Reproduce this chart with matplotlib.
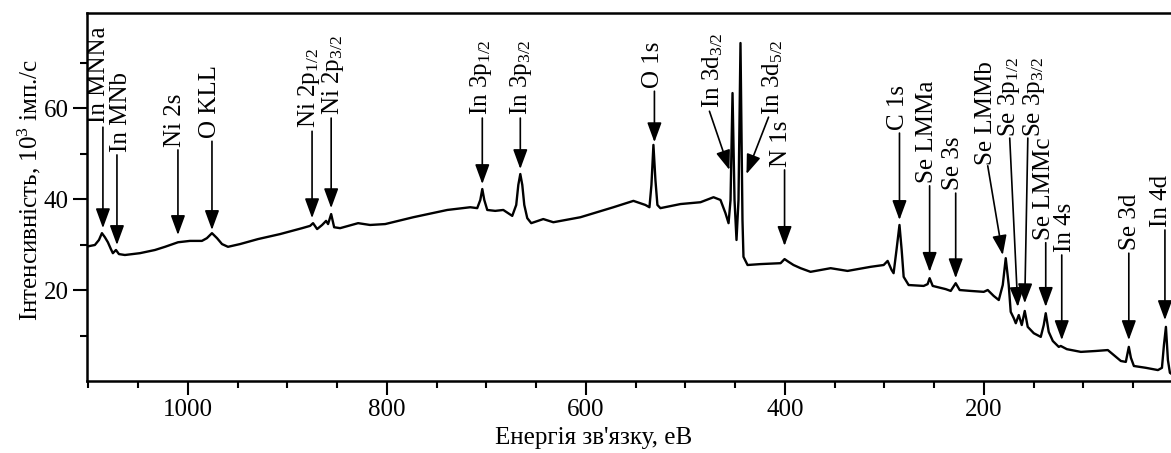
import matplotlib
matplotlib.use("Agg")
import matplotlib.pyplot as plt

# ---------------- data ----------------
energy = [1100.6, 1093.6, 1089.5, 1086.5, 1083.5, 1080.5, 1077.5, 1075.5, 1072.4, 1069.4,
          1063.4, 1048.3, 1033.2, 1023.1, 1010.0, 998.0, 986.0, 981.0, 975.9, 970.8,
          965.8, 959.8, 947.7, 929.6, 907.4, 885.3, 877.3, 874.3, 870.2, 865.2,
          861.2, 859.2, 856.1, 853.1, 847.1, 829.0, 817.0, 801.8, 773.6, 739.4,
          716.3, 709.3, 706.2, 704.2, 702.2, 699.2, 691.2, 683.1, 674.1, 670.1,
          668.0, 666.0, 664.0, 662.0, 659.0, 655.0, 642.9, 632.8, 605.6, 572.4,
          552.3, 540.3, 536.2, 534.2, 532.2, 530.2, 528.2, 525.2, 505.0, 484.9,
          471.8, 464.8, 459.8, 456.7, 454.7, 452.7, 450.7, 448.7, 446.7, 444.7,
          442.7, 441.7, 437.6, 424.6, 404.4, 400.4, 396.4, 391.4, 384.3, 374.3,
          354.1, 337.1, 313.9, 300.8, 296.8, 292.8, 290.8, 287.9, 284.9, 282.7,
          280.7, 275.7, 260.6, 256.6, 254.6, 251.5, 238.5, 233.4, 228.4, 224.4,
          213.3, 200.2, 196.2, 190.2, 185.1, 181.1, 178.1, 175.1, 173.1, 170.0,
          168.0, 165.0, 162.0, 159.0, 156.0, 149.9, 142.9, 139.9, 137.9, 134.9,
          130.8, 124.8, 122.8, 116.7, 102.6, 87.6, 75.5, 69.5, 62.4, 57.4,
          55.4, 54.4, 52.3, 49.3, 37.3, 25.1, 21.1, 19.1, 17.1, 15.1,
          13.1, 11.1]
intensity = [29.6, 29.9, 31.0, 32.5, 31.6, 30.5, 29.0, 28.1, 28.8, 27.9,
             27.7, 28.1, 28.8, 29.5, 30.5, 30.8, 30.8, 31.4, 32.5, 31.4,
             30.1, 29.5, 30.1, 31.2, 32.3, 33.6, 34.1, 34.7, 33.4, 34.3,
             35.2, 34.5, 36.7, 33.8, 33.6, 34.7, 34.3, 34.5, 36.0, 37.6,
             38.2, 38.0, 39.8, 42.2, 39.8, 37.6, 37.4, 37.6, 36.3, 38.7,
             43.1, 45.5, 43.1, 38.7, 35.8, 34.7, 35.6, 34.9, 36.0, 38.2,
             39.6, 38.7, 38.2, 43.1, 51.9, 44.2, 38.7, 38.0, 38.9, 39.3,
             40.4, 39.8, 36.9, 34.7, 39.8, 63.3, 39.8, 31.0, 39.8, 74.3,
             35.4, 27.3, 25.5, 25.7, 25.9, 26.8, 26.2, 25.5, 24.8, 24.0,
             24.8, 24.2, 25.1, 25.5, 26.4, 24.4, 23.7, 28.8, 34.3, 28.8,
             22.9, 21.1, 20.9, 21.3, 22.6, 20.9, 20.2, 19.8, 21.5, 20.0,
             19.8, 19.6, 20.0, 18.7, 17.8, 21.1, 27.0, 21.1, 15.2, 13.8,
             12.7, 14.5, 12.3, 15.4, 11.9, 10.5, 9.7, 12.3, 14.9, 10.8,
             8.8, 7.5, 7.7, 7.0, 6.4, 6.6, 6.8, 5.7, 4.4, 4.2,
             6.4, 7.5, 5.1, 3.3, 2.9, 2.4, 2.9, 7.9, 11.9, 4.6,
             1.8, 1.5]

x_ticks_major = [1000, 800, 600, 400, 200]
y_ticks_major = [20, 40, 60]

# peak annotations: label, text centre energy, text bottom intensity,
# arrow start (energy, intensity), arrow tip (energy, intensity)
peak_labels = ["In MNNa", "In MNb", "Ni 2s", "O KLL",
               r"Ni 2p$_{\mathrm{1/2}}$", r"Ni 2p$_{\mathrm{3/2}}$",
               r"In 3p$_{\mathrm{1/2}}$", r"In 3p$_{\mathrm{3/2}}$", "O 1s",
               r"In 3d$_{\mathrm{3/2}}$", r"In 3d$_{\mathrm{5/2}}$", "N 1s",
               "C 1s", "Se LMMa", "Se 3s", "Se LMMb",
               r"Se 3p$_{\mathrm{1/2}}$", r"Se 3p$_{\mathrm{3/2}}$", "Se LMMc",
               "In 4s", "Se 3d", "In 4d"]
label_x = [1089.5, 1067.4, 1013.1, 977.9, 878.3, 854.1, 705.2, 665.0, 532.2,
           472.9, 412.5, 404.4, 286.7, 257.6, 231.4, 198.2, 175.1, 149.9, 139.9,
           118.8, 53.4, 22.1]
label_y = [56.7, 50.3, 51.4, 53.4, 55.6, 58.5, 58.5, 58.5, 64.4,
           60.0, 58.5, 47.0, 55.2, 43.5, 42.0, 47.5, 53.6, 53.6, 31.0,
           28.4, 28.8, 33.8]
arrow_from_x = [1085.5, 1071.4, 1010.1, 975.9, 875.3, 856.1, 704.2, 666.0, 531.2,
                475.9, 416.5, 400.4, 284.9, 254.6, 228.4, 196.2, 174.1, 155.9, 137.9,
                121.8, 54.4, 18.1]
arrow_from_y = [55.8, 49.7, 50.8, 52.7, 54.9, 57.8, 57.8, 57.8, 63.7,
                59.3, 58.0, 46.4, 54.5, 42.9, 41.3, 47.3, 53.4, 53.4, 30.4,
                27.7, 28.1, 33.2]
arrow_to_x = [1085.5, 1071.4, 1010.1, 975.9, 875.3, 856.1, 704.2, 666.0, 531.2,
              455.8, 438.7, 400.4, 284.9, 254.6, 228.4, 181.1, 166.0, 159.0, 137.9,
              121.8, 54.4, 18.1]
arrow_to_y = [33.6, 29.9, 32.1, 33.2, 35.8, 38.0, 43.3, 46.6, 52.5,
              46.4, 45.5, 29.7, 35.4, 24.0, 22.6, 27.7, 16.3, 17.1, 16.3,
              9.0, 9.0, 13.4]

# ---------------- styling ----------------
plt.rcParams["font.family"] = ["Liberation Serif", "DejaVu Serif"]
plt.rcParams["mathtext.fontset"] = "custom"
plt.rcParams["mathtext.rm"] = "Liberation Serif"
plt.rcParams["mathtext.it"] = "Liberation Serif:italic"
plt.rcParams["mathtext.bf"] = "Liberation Serif:bold"
FS = 18

W, H = 1171, 453
fig = plt.figure(figsize=(W / 100, H / 100), dpi=100)
ax = fig.add_axes([87 / W, 1 - 381 / H, 1 - 87 / W, 368 / H])

ax.plot(energy, intensity, color="black", lw=1.7)

ax.set_xlim(1101.5, 12)
ax.set_ylim(0, 80.9)

ax.set_xticks(x_ticks_major)
ax.set_xticks(range(1100, 0, -50), minor=True)
ax.set_yticks(y_ticks_major)
ax.set_yticks([10, 30, 50, 70], minor=True)
ax.tick_params(axis="both", which="major", direction="out", length=10, width=1.5,
               labelsize=FS, pad=3)
ax.tick_params(axis="both", which="minor", direction="out", length=5, width=1.5)

ax.spines["right"].set_visible(False)
for s in ("left", "top", "bottom"):
    ax.spines[s].set_linewidth(1.8)

ax.set_xlabel("Енергія зв'язку, еВ", fontsize=FS)
ax.xaxis.set_label_coords(0.467, -0.125)
ax.set_ylabel("Інтенсивність, 10$^3$ імп./с", fontsize=FS)
ax.yaxis.set_label_coords(-0.041, 0.52)

for lab, tx, ty, sx, sy, ex, ey in zip(peak_labels, label_x, label_y, arrow_from_x,
                                       arrow_from_y, arrow_to_x, arrow_to_y):
    ax.text(tx, ty, lab, rotation=90, ha="center", va="bottom", fontsize=FS,
            clip_on=False)
    ax.annotate("", xy=(ex, ey), xytext=(sx, sy),
                arrowprops=dict(arrowstyle="-|>,head_length=0.6,head_width=0.22",
                                color="black", lw=1.2, shrinkA=0, shrinkB=0,
                                mutation_scale=20))

fig.savefig("out.png", dpi=100)
